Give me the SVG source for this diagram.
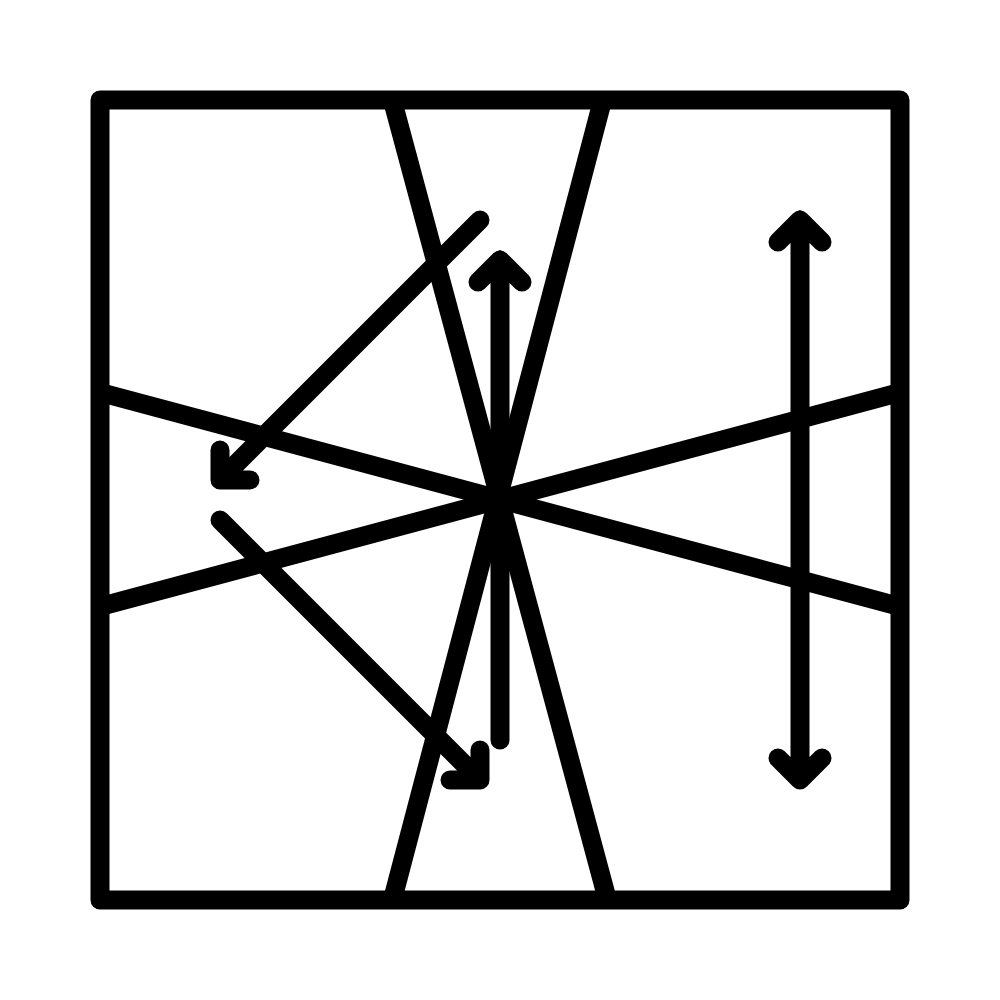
<svg xmlns="http://www.w3.org/2000/svg" width="1000" height="1000" viewBox="0 0 1000 1000">
<style>
.s{fill:none;stroke:#000;stroke-width:19;stroke-linecap:round;stroke-linejoin:round}
.b{fill:none;stroke:#000;stroke-width:19;stroke-linecap:butt}
</style>
<rect width="1000" height="1000" fill="#fff"/>
<g id="rays">
<line class="b" x1="392.3" y1="100" x2="607.5" y2="900"/>
<line class="b" x1="602.6" y1="100" x2="392.4" y2="900"/>
<line class="b" x1="100" y1="392.4" x2="900" y2="606.6"/>
<line class="b" x1="100" y1="606.6" x2="900" y2="392.4"/>
</g>
<g id="frame">
<rect class="s" x="100" y="100" width="800" height="800"/>
</g>
<g id="connectors">
<path class="s" d="M500 740V260M478 282L500 260L522 282"/>
<path class="s" d="M800 220V780M778 242L800 220L822 242M778 758L800 780L822 758"/>
<path class="s" d="M480 220L220 480M220 450V480H250"/>
<path class="s" d="M220 520L480 780M480 750V780H450"/>
</g>
</svg>
